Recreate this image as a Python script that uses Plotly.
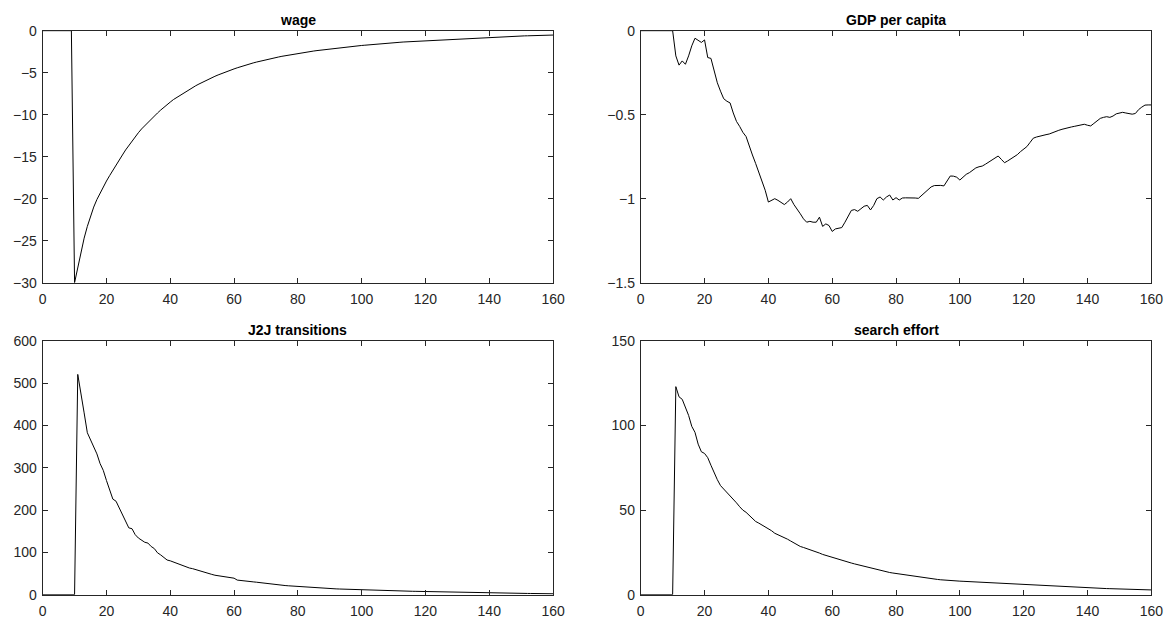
import plotly.graph_objects as go

periods = list(range(161))

wage = [0, 0, 0, 0, 0, 0, 0, 0, 0, 0,
        -30, -28.2, -26.3, -24.7, -23.3, -22.1, -21.0, -20.1, -19.3, -18.6,
        -17.9, -17.25, -16.6, -16.0, -15.4, -14.8, -14.2, -13.65, -13.1, -12.6,
        -12.15, -11.7, -11.3, -10.95, -10.6, -10.2, -9.8, -9.45, -9.1, -8.8,
        -8.5, -8.2, -7.95, -7.7, -7.45, -7.2, -6.98, -6.76, -6.55, -6.35,
        -6.15, -5.96, -5.78, -5.6, -5.43, -5.27, -5.11, -4.96, -4.82, -4.68,
        -4.55, -4.42, -4.29, -4.17, -4.06, -3.95, -3.84, -3.74, -3.64, -3.55,
        -3.46, -3.37, -3.29, -3.21, -3.13, -3.05, -2.98, -2.91, -2.84, -2.77,
        -2.71, -2.65, -2.59, -2.53, -2.47, -2.42, -2.37, -2.32, -2.27, -2.22,
        -2.17, -2.13, -2.08, -2.04, -2.0, -1.96, -1.92, -1.88, -1.84, -1.80,
        -1.76, -1.73, -1.69, -1.66, -1.62, -1.59, -1.56, -1.53, -1.50, -1.47,
        -1.44, -1.41, -1.38, -1.35, -1.33, -1.30, -1.27, -1.25, -1.22, -1.20,
        -1.18, -1.15, -1.13, -1.11, -1.09, -1.06, -1.04, -1.02, -1.0, -0.98,
        -0.96, -0.94, -0.92, -0.90, -0.89, -0.87, -0.85, -0.83, -0.82, -0.80,
        -0.78, -0.77, -0.75, -0.74, -0.72, -0.71, -0.69, -0.68, -0.66, -0.65,
        -0.64, -0.62, -0.61, -0.60, -0.58, -0.57, -0.56, -0.55, -0.54, -0.53,
        -0.52]

gdp = [0, 0, 0, 0, 0, 0, 0, 0, 0, 0,
       0, -0.15, -0.205, -0.18, -0.20, -0.15, -0.09, -0.045, -0.055, -0.07,
       -0.055, -0.16, -0.165, -0.24, -0.31, -0.36, -0.405, -0.42, -0.43, -0.49,
       -0.54, -0.57, -0.605, -0.63, -0.69, -0.74, -0.79, -0.84, -0.89, -0.95,
       -1.02, -1.01, -1.0, -1.01, -1.025, -1.035, -1.02, -1.0, -1.035, -1.06,
       -1.09, -1.12, -1.14, -1.135, -1.14, -1.14, -1.11, -1.165, -1.15, -1.16,
       -1.195, -1.18, -1.175, -1.172, -1.14, -1.1, -1.07, -1.065, -1.075, -1.06,
       -1.045, -1.04, -1.067, -1.04, -1.0, -0.99, -1.008, -0.99, -0.978, -1.008,
       -0.994, -1.008, -0.996, -0.995, -0.994, -0.995, -0.996, -0.998, -0.98, -0.96,
       -0.942, -0.93, -0.922, -0.92, -0.921, -0.924, -0.89, -0.865, -0.866, -0.872,
       -0.889, -0.87, -0.855, -0.845, -0.83, -0.817, -0.81, -0.806, -0.795, -0.783,
       -0.772, -0.76, -0.746, -0.766, -0.786, -0.775, -0.763, -0.75, -0.738, -0.72,
       -0.705, -0.69, -0.665, -0.64, -0.633, -0.627, -0.622, -0.619, -0.615, -0.607,
       -0.598, -0.593, -0.587, -0.581, -0.576, -0.573, -0.569, -0.566, -0.562, -0.557,
       -0.563, -0.567, -0.552, -0.535, -0.522, -0.516, -0.512, -0.516, -0.508, -0.495,
       -0.49, -0.486, -0.49, -0.495, -0.497, -0.493, -0.47, -0.455, -0.443, -0.442,
       -0.442]

j2j = [0, 0, 0, 0, 0, 0, 0, 0, 0, 0,
       0, 521, 470, 430, 383, 365, 350, 333, 310, 294,
       270, 247, 226, 221, 205, 188, 175, 158, 156, 142,
       134, 128, 124, 122, 114, 109, 99, 94, 87, 82,
       80, 77, 75, 72, 68, 65, 63, 61.5, 59, 56.5,
       55, 52, 50, 48, 46, 45, 43.5, 42.5, 41.5, 40.5,
       39, 34.5, 34, 33, 32, 31, 30.3, 29.5, 28.5, 27.5,
       26.5, 25.5, 24, 23.5, 23, 22.3, 21.6, 21, 20.4, 19.8,
       19.2, 18.6, 18, 17.4, 17, 16.5, 16, 15.5, 15, 14.7,
       14.3, 14, 13.7, 13.4, 13.1, 12.8, 12.5, 12.2, 12, 11.7,
       11.4, 11.2, 11.0, 10.8, 10.5, 10.3, 10.0, 9.8, 9.5, 9.3,
       9.1, 8.9, 8.7, 8.5, 8.4, 8.2, 8.0, 7.9, 7.7, 7.5,
       7.3, 7.1, 6.9, 6.7, 6.5, 6.3, 6.1, 5.9, 5.8, 5.6,
       5.5, 5.3, 5.2, 5.0, 4.9, 4.7, 4.6, 4.5, 4.3, 4.2,
       4.1, 4.0, 3.9, 3.8, 3.7, 3.6, 3.5, 3.4, 3.3, 3.2,
       3.1, 3.0, 2.9, 2.8, 2.7, 2.6, 2.5, 2.4, 2.3, 2.2,
       2.1]

search = [0, 0, 0, 0, 0, 0, 0, 0, 0, 0,
          0, 123, 117, 115.5, 111, 106, 99.5, 96, 89, 84.5,
          83.5, 81, 76.5, 72, 68, 64.5, 62.5, 60.7, 58.8, 56.5,
          54.3, 52, 50, 48.7, 47, 45, 43.3, 42.3, 41.3, 40.3,
          39.3, 37.8, 36.3, 35.5, 34.8, 33.8, 32.8, 31.7, 30.6, 29.5,
          28.5, 27.9, 27.3, 26.7, 26.1, 25.4, 24.6, 23.8, 23.2, 22.6,
          21.9, 21.4, 20.8, 20.3, 19.7, 19.2, 18.7, 18.2, 17.7, 17.2,
          16.8, 16.3, 15.9, 15.3, 14.8, 14.4, 14.0, 13.5, 13.1, 12.8,
          12.5, 12.2, 11.9, 11.6, 11.3, 11.0, 10.8, 10.6, 10.3, 10.0,
          9.7, 9.4, 9.2, 9.0, 8.8, 8.6, 8.4, 8.3, 8.2, 8.1,
          8.0, 7.9, 7.8, 7.7, 7.6, 7.4, 7.3, 7.2, 7.0, 6.9,
          6.8, 6.7, 6.6, 6.5, 6.4, 6.3, 6.2, 6.1, 6.0, 5.9,
          5.8, 5.7, 5.6, 5.5, 5.4, 5.3, 5.2, 5.1, 5.0, 4.9,
          4.8, 4.7, 4.6, 4.5, 4.4, 4.35, 4.3, 4.2, 4.15, 4.1,
          4.0, 3.95, 3.9, 3.8, 3.75, 3.7, 3.6, 3.55, 3.5, 3.4,
          3.35, 3.3, 3.2, 3.15, 3.1, 3.05, 3.0, 2.95, 2.9, 2.85,
          2.8]

titles = ["wage", "GDP per capita", "J2J transitions", "search effort"]
series = [wage, gdp, j2j, search]
y_ranges = [[-30, 0], [-1.5, 0], [0, 600], [0, 150]]
y_ticks = [[-30, -25, -20, -15, -10, -5, 0],
           [-1.5, -1, -0.5, 0],
           [0, 100, 200, 300, 400, 500, 600],
           [0, 50, 100, 150]]
x_ticks = [0, 20, 40, 60, 80, 100, 120, 140, 160]

x_domains = [[0.0365, 0.4731], [0.5481, 0.9849]]
y_domains = [[0.5448, 0.9506], [0.0424, 0.4509]]

axis_color = "#262626"
fig = go.Figure()
annotations = []
for i in range(4):
    n = i + 1
    xa = "x" if n == 1 else f"x{n}"
    ya = "y" if n == 1 else f"y{n}"
    fig.add_trace(go.Scatter(x=periods, y=series[i], mode="lines",
                             line=dict(color="black", width=1),
                             xaxis=xa, yaxis=ya, showlegend=False))
    row, col = i // 2, i % 2
    common = dict(showline=True, mirror="ticks", linecolor=axis_color, linewidth=1,
                  ticks="inside", ticklen=5, tickcolor=axis_color, tickwidth=1,
                  showgrid=False, zeroline=False, automargin=False,
                  tickfont=dict(family="Liberation Sans, Arial", size=14, color=axis_color))
    xkey = "xaxis" if n == 1 else f"xaxis{n}"
    ykey = "yaxis" if n == 1 else f"yaxis{n}"
    fig.update_layout({
        xkey: dict(domain=x_domains[col], range=[0, 160], tickvals=x_ticks,
                   anchor=ya, ticklabelstandoff=4, **common),
        ykey: dict(domain=y_domains[row], range=y_ranges[i], tickvals=y_ticks[i],
                   anchor=xa, ticklabelstandoff=2, **common),
    })
    annotations.append(dict(text=f"<b>{titles[i]}</b>", showarrow=False,
                            xref="paper", yref="paper",
                            x=sum(x_domains[col]) / 2, y=y_domains[row][1],
                            xanchor="center", yanchor="bottom", yshift=1,
                            font=dict(family="Liberation Sans, Arial", size=14, color="black")))

fig.update_layout(template="none", width=1169, height=621,
                  margin=dict(l=0, r=0, t=0, b=0, autoexpand=False),
                  paper_bgcolor="white", plot_bgcolor="white",
                  annotations=annotations)

fig.write_html("out.html",
               post_script="document.body.style.margin='0';document.body.style.overflow='hidden';")
